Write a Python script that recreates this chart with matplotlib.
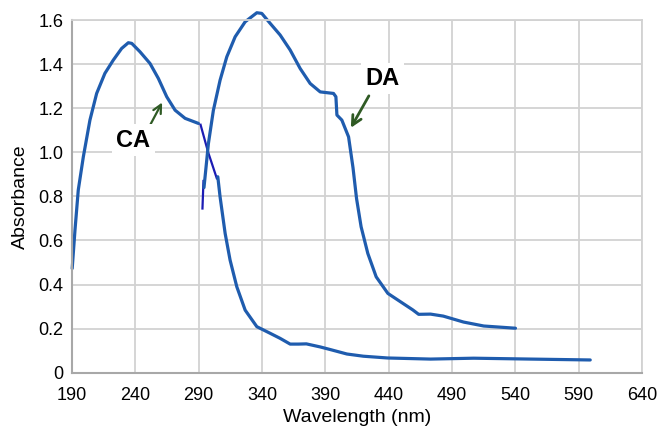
import matplotlib
matplotlib.use("Agg")
import matplotlib.pyplot as plt

plt.rcParams['font.family'] = ['Liberation Sans', 'DejaVu Sans']

# CA curve (first part)
ca_x = [190.2, 192.4, 195, 199, 204.2, 209.5, 216, 222.6, 229.2, 234.5, 237.2,
        243.7, 251.6, 258.2, 264.8, 271.4, 279.3, 289.8]
ca_y = [0.473, 0.647, 0.829, 0.98, 1.146, 1.267, 1.358, 1.418, 1.471, 1.497, 1.494,
        1.456, 1.403, 1.335, 1.252, 1.191, 1.154, 1.131]
# hand-drawn connecting segment
ca_link_x = [291.5, 297.5, 304.3]
ca_link_y = [1.125, 1.00, 0.882]
# CA curve (second part)
ca2_x = [305.1, 306.9, 310.9, 314.8, 320.1, 326.7, 335.9, 346.4, 354.3, 362.2, 368.8,
         375, 386, 394, 407, 420, 439, 473, 507, 552, 599]
ca2_y = [0.889, 0.798, 0.632, 0.511, 0.39, 0.284, 0.209, 0.179, 0.156, 0.130, 0.130,
         0.131, 0.117, 0.105, 0.085, 0.075, 0.067, 0.062, 0.066, 0.062, 0.058]

# DA curve
da_start_x = [293.0, 293.8]
da_start_y = [0.745, 0.87]
da_x = [294.2, 297.7, 301.6, 306.9, 312.2, 318.8, 326.7, 335.9, 339.8, 346.4, 354.3,
        362.2, 370.1, 378, 385.9, 396.4, 398.3, 399.1, 403, 408.3, 411.8, 414.6, 418.2,
        423.5, 430.1, 439.3, 451.1, 459, 463.6, 473, 483, 499, 515, 540]
da_y = [0.84, 1.04, 1.19, 1.327, 1.433, 1.524, 1.592, 1.633, 1.63, 1.585, 1.532,
        1.464, 1.38, 1.312, 1.274, 1.267, 1.252, 1.169, 1.146, 1.07, 0.93, 0.79, 0.662,
        0.541, 0.435, 0.36, 0.315, 0.285, 0.265, 0.266, 0.257, 0.23, 0.212, 0.202]

xticks = [190, 240, 290, 340, 390, 440, 490, 540, 590, 640]
yticks = [0, 0.2, 0.4, 0.6, 0.8, 1.0, 1.2, 1.4, 1.6]
ytick_labels = ["0", "0.2", "0.4", "0.6", "0.8", "1.0", "1.2", "1.4", "1.6"]

blue = "#1f5cae"
dark = "#1c1cb4"
green = "#2f5a24"

fig = plt.figure(figsize=(6.6, 4.26), dpi=100)
ax = fig.add_axes([0.109, 0.125, 0.864, 0.828])

kw = dict(color=blue, lw=2.3, clip_on=False, solid_capstyle='round',
          solid_joinstyle='round')
ax.plot(ca_x, ca_y, **kw)
ax.plot(ca_link_x, ca_link_y, color=dark, lw=1.6, clip_on=False)
ax.plot(ca2_x, ca2_y, **kw)
ax.plot(da_start_x, da_start_y, color=dark, lw=1.6, clip_on=False)
ax.plot(da_x, da_y, **kw)

ax.set_xlim(190, 640)
ax.set_ylim(0, 1.6)
ax.set_xticks(xticks)
ax.set_yticks(yticks)
ax.set_yticklabels(ytick_labels)
ax.grid(True, color="#d2d2d2", lw=1.3)
ax.set_axisbelow(True)
for s in ["top", "right"]:
    ax.spines[s].set_color("#d2d2d2")
    ax.spines[s].set_linewidth(1.3)
for s in ["left", "bottom"]:
    ax.spines[s].set_color("#a8a8a8")
    ax.spines[s].set_linewidth(1.5)
ax.tick_params(axis='x', length=0, labelsize=13, pad=10)
ax.tick_params(axis='y', length=0, labelsize=13, pad=6)
ax.set_xlabel("Wavelength (nm)", fontsize=14, labelpad=4)
ax.set_ylabel("Absorbance", fontsize=14, labelpad=7)

ax.annotate("", xy=(262.2, 1.237), xytext=(251, 1.116),
            arrowprops=dict(arrowstyle="->", color=green, lw=1.6, mutation_scale=15))
ax.text(238.5, 1.055, "CA", fontsize=17, fontweight="bold", ha="center", va="center",
        bbox=dict(facecolor="white", edgecolor="none", pad=3))
ax.annotate("", xy=(409, 1.10), xytext=(425.4, 1.267),
            arrowprops=dict(arrowstyle="->", color=green, lw=2.0, mutation_scale=17))
ax.text(435, 1.335, "DA", fontsize=17, fontweight="bold", ha="center", va="center",
        bbox=dict(facecolor="white", edgecolor="none", pad=3))

fig.savefig("out.png", dpi=100)
